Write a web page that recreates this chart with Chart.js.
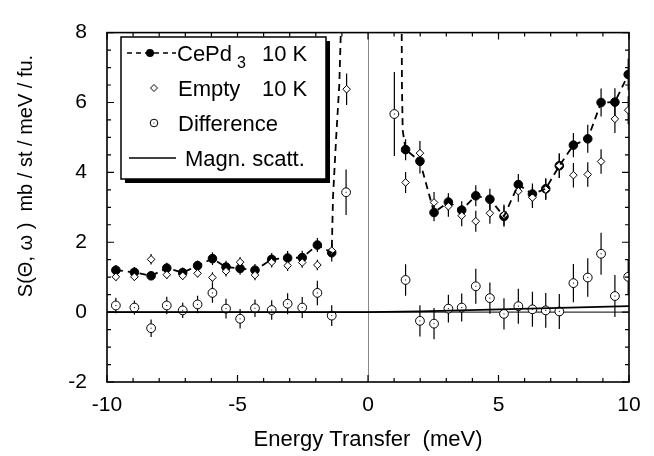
<!DOCTYPE html>
<html>
<head>
<meta charset="utf-8">
<script src="https://cdn.jsdelivr.net/npm/chart.js@4.4.0/dist/chart.umd.min.js"></script>
<style>
  body { margin: 0; background: #fff; }
</style>
</head>
<body>
<canvas id="chart" width="654" height="456"></canvas>
<script>
// energy transfer (meV) of the measured points, neg. side then pos. side
const energy = [-9.66, -8.95, -8.31, -7.71, -7.10, -6.53, -5.96, -5.44, -4.90, -4.33, -3.69, -3.08, -2.52, -1.94, -1.39,
  1.44, 1.99, 2.53, 3.08, 3.59, 4.13, 4.67, 5.21, 5.76, 6.30, 6.81, 7.33, 7.87, 8.42, 8.93, 9.46, 9.97];
const cepd3 = [1.20, 1.14, 1.04, 1.26, 1.13, 1.33, 1.53, 1.29, 1.25, 1.20, 1.51, 1.55, 1.56, 1.92, 1.70,
  4.65, 4.32, 2.85, 3.15, 2.92, 3.33, 3.23, 2.74, 3.65, 3.38, 3.53, 4.19, 4.78, 4.96, 6.00, 6.01, 6.80];
const cepd3Err = [0.15, 0.15, 0.12, 0.15, 0.15, 0.15, 0.18, 0.18, 0.18, 0.18, 0.18, 0.2, 0.2, 0.2, 0.25,
  0.3, 0.35, 0.25, 0.25, 0.25, 0.3, 0.3, 0.3, 0.3, 0.3, 0.3, 0.35, 0.35, 0.4, 0.4, 0.4, 0.45];
const empty = [1.01, 1.01, 1.51, 1.07, 1.04, 1.11, 0.99, 1.17, 1.43, 1.06, 1.43, 1.33, 1.42, 1.35, 1.76,
  3.71, 4.55, 3.14, 3.03, 2.76, 2.60, 2.83, 2.78, 3.46, 3.28, 3.51, 4.19, 3.92, 3.94, 4.31, 5.53, 5.78];
const emptyErr = [0.12, 0.12, 0.15, 0.12, 0.12, 0.12, 0.15, 0.15, 0.15, 0.15, 0.15, 0.15, 0.15, 0.15, 0.2,
  0.3, 0.35, 0.3, 0.3, 0.3, 0.3, 0.3, 0.3, 0.3, 0.3, 0.3, 0.35, 0.35, 0.35, 0.35, 0.4, 0.4];
const diff = [0.19, 0.13, -0.46, 0.19, 0.05, 0.22, 0.55, 0.10, -0.19, 0.11, 0.06, 0.24, 0.13, 0.55, -0.10,
  0.92, -0.25, -0.33, 0.10, 0.13, 0.74, 0.40, -0.05, 0.17, 0.08, 0.05, 0.02, 0.83, 0.99, 1.67, 0.46, 1.01];
const diffErr = [0.22, 0.2, 0.25, 0.25, 0.22, 0.25, 0.28, 0.28, 0.28, 0.25, 0.28, 0.3, 0.3, 0.35, 0.3,
  0.45, 0.45, 0.45, 0.4, 0.4, 0.5, 0.45, 0.45, 0.5, 0.5, 0.5, 0.5, 0.55, 0.55, 0.6, 0.6, 0.5];

// points close to the elastic line
const emptyElasticX = [-0.82];
const emptyElasticY = [6.38];
const emptyElasticErr = [0.45];
const diffElasticX = [-0.84, 1.01];
const diffElasticY = [3.43, 5.67];
const diffElasticErr = [0.65, 1.2];

// dashed guide towards the elastic peak
const guideLeftX = [-1.39, -1.34, -1.22, -1.10, -1.03];
const guideLeftY = [1.70, 3.3, 5.0, 6.5, 8.3];
const guideRightX = [1.29, 1.30, 1.33, 1.44];
const guideRightY = [8.3, 6.5, 5.2, 4.65];

// magnetic scattering
const magnX = [-10, 0, 2, 10];
const magnY = [0, 0, 0.02, 0.17];

const xTicks = [-10, -5, 0, 5, 10];
const yTicks = [-2, 0, 2, 4, 6, 8];

const FONT = '"Liberation Sans", Arial, Helvetica, sans-serif';

function pts(xs, ys) {
  return xs.map((x, i) => ({ x: x, y: ys[i] }));
}

const leftN = 15;
const cepdLine = pts(energy.slice(0, leftN), cepd3.slice(0, leftN)).concat(pts(guideLeftX, guideLeftY).slice(1));
const cepdLineR = pts(guideRightX, guideRightY).concat(pts(energy.slice(leftN + 1), cepd3.slice(leftN + 1)));

const errorBars = {
  id: 'errorBars',
  beforeDatasetsDraw(chart) {
    const { ctx, chartArea, scales: { x, y } } = chart;
    ctx.save();
    ctx.beginPath();
    ctx.rect(chartArea.left, chartArea.top, chartArea.right - chartArea.left, chartArea.bottom - chartArea.top);
    ctx.clip();
    ctx.strokeStyle = '#000';
    ctx.lineWidth = 1.2;
    chart.data.datasets.forEach(ds => {
      if (!ds.err) return;
      ds.data.forEach((p, i) => {
        const px = x.getPixelForValue(p.x);
        ctx.beginPath();
        ctx.moveTo(px, y.getPixelForValue(p.y - ds.err[i]));
        ctx.lineTo(px, y.getPixelForValue(p.y + ds.err[i]));
        ctx.stroke();
      });
    });
    ctx.restore();
  }
};

const frame = {
  id: 'frame',
  beforeDatasetsDraw(chart) {
    const { ctx, chartArea: a, scales: { x, y } } = chart;
    ctx.save();
    // thin line at zero energy
    ctx.strokeStyle = '#888';
    ctx.lineWidth = 1;
    const x0 = Math.round(x.getPixelForValue(0)) + 0.5;
    ctx.beginPath();
    ctx.moveTo(x0, a.top);
    ctx.lineTo(x0, a.bottom);
    ctx.stroke();
    // zero line
    ctx.strokeStyle = '#000';
    const y0 = y.getPixelForValue(0);
    ctx.beginPath();
    ctx.moveTo(a.left, y0);
    ctx.lineTo(a.right, y0);
    ctx.stroke();
    ctx.restore();
  },
  afterDraw(chart) {
    const { ctx, chartArea: a, scales: { x, y } } = chart;
    ctx.save();
    ctx.strokeStyle = '#000';
    ctx.lineWidth = 1.6;
    ctx.strokeRect(a.left, a.top, a.right - a.left, a.bottom - a.top);
    ctx.lineWidth = 1.2;
    for (let v = -10; v <= 10; v += 1) {
      const px = x.getPixelForValue(v);
      const len = v % 5 === 0 ? 7 : 4;
      ctx.beginPath();
      ctx.moveTo(px, a.bottom); ctx.lineTo(px, a.bottom - len);
      ctx.moveTo(px, a.top); ctx.lineTo(px, a.top + len);
      ctx.stroke();
    }
    for (let v = -2; v <= 8; v += 0.5) {
      const py = y.getPixelForValue(v);
      const len = v % 2 === 0 ? 7 : 4;
      ctx.beginPath();
      ctx.moveTo(a.left, py); ctx.lineTo(a.left + len, py);
      ctx.moveTo(a.right, py); ctx.lineTo(a.right - len, py);
      ctx.stroke();
    }
    // y axis title
    ctx.translate(26, 176);
    ctx.rotate(-Math.PI / 2);
    ctx.fillStyle = '#000';
    ctx.font = '20px ' + FONT;
    ctx.textAlign = 'center';
    ctx.textBaseline = 'middle';
    ctx.fillText('S(\u0398, \u03C9 )  mb / st / meV / fu.', 0, 0);
    ctx.restore();
  }
};

// centre dots of the open circles
const dots = {
  id: 'dots',
  afterDatasetsDraw(chart) {
    const { ctx, chartArea: a } = chart;
    ctx.save();
    ctx.beginPath();
    ctx.rect(a.left, a.top, a.right - a.left, a.bottom - a.top);
    ctx.clip();
    ctx.fillStyle = '#000';
    chart.data.datasets.forEach((ds, di) => {
      if (!ds.dot) return;
      chart.getDatasetMeta(di).data.forEach(el => {
        ctx.fillRect(el.x - 0.5, el.y - 0.5, 1, 1);
      });
    });
    ctx.restore();
  }
};

const legendBox = {
  id: 'legendBox',
  afterDraw(chart) {
    const { ctx } = chart;
    const L = 121, T = 37, R = 326, B = 179;
    ctx.save();
    ctx.fillStyle = '#000';
    ctx.fillRect(L + 4, T + 4, R - L, B - T);
    ctx.fillStyle = '#fff';
    ctx.fillRect(L, T, R - L, B - T);
    ctx.strokeStyle = '#000';
    ctx.lineWidth = 1.5;
    ctx.strokeRect(L, T, R - L, B - T);

    // row 1
    ctx.lineWidth = 1.5;
    ctx.setLineDash([5, 4]);
    ctx.beginPath();
    ctx.moveTo(127, 53); ctx.lineTo(176, 53);
    ctx.stroke();
    ctx.setLineDash([]);
    ctx.beginPath();
    ctx.arc(150, 53, 4, 0, Math.PI * 2);
    ctx.fillStyle = '#000';
    ctx.fill();

    // row 2 diamond
    ctx.lineWidth = 1;
    ctx.beginPath();
    ctx.moveTo(154, 84.5); ctx.lineTo(157.5, 88); ctx.lineTo(154, 91.5); ctx.lineTo(150.5, 88); ctx.closePath();
    ctx.stroke();

    // row 3 circle
    ctx.beginPath();
    ctx.arc(154, 123, 3.8, 0, Math.PI * 2);
    ctx.stroke();
    ctx.fillRect(153.5, 122.5, 1, 1);

    // row 4 solid line
    ctx.lineWidth = 1.6;
    ctx.beginPath();
    ctx.moveTo(129, 158); ctx.lineTo(176, 158);
    ctx.stroke();

    ctx.fillStyle = '#000';
    ctx.textBaseline = 'alphabetic';
    ctx.font = '22px ' + FONT;
    ctx.fillText('CePd', 177, 61);
    ctx.font = '16px ' + FONT;
    ctx.fillText('3', 237, 68);
    ctx.font = '22px ' + FONT;
    ctx.fillText('10 K', 262, 61);
    ctx.fillText('Empty', 178, 96);
    ctx.fillText('10 K', 262, 96);
    ctx.fillText('Difference', 178, 131);
    ctx.fillText('Magn. scatt.', 185, 166);
    ctx.restore();
  }
};

new Chart(document.getElementById('chart'), {
  type: 'scatter',
  data: {
    datasets: [
      {
        label: 'guide left', type: 'line', data: cepdLine, showLine: true, pointRadius: 0,
        borderColor: '#000', borderWidth: 1.8, borderDash: [7, 5], tension: 0, clip: 0
      },
      {
        label: 'guide right', type: 'line', data: cepdLineR, showLine: true, pointRadius: 0,
        borderColor: '#000', borderWidth: 1.8, borderDash: [7, 5], tension: 0, clip: 0
      },
      {
        label: 'Magn. scatt.', type: 'line', data: pts(magnX, magnY), showLine: true, pointRadius: 0,
        borderColor: '#000', borderWidth: 1.8, tension: 0
      },
      {
        label: 'Difference', data: pts(energy, diff).concat(pts(diffElasticX, diffElasticY)),
        err: diffErr.concat(diffElasticErr), dot: true,
        pointStyle: 'circle', pointRadius: 4.4, borderWidth: 1, borderColor: '#000', backgroundColor: '#fff'
      },
      {
        label: 'Empty 10 K', data: pts(energy, empty).concat(pts(emptyElasticX, emptyElasticY)),
        err: emptyErr.concat(emptyElasticErr),
        pointStyle: 'rectRot', pointRadius: 3.8, borderWidth: 1, borderColor: '#000', backgroundColor: '#fff'
      },
      {
        label: 'CePd3 10 K', data: pts(energy, cepd3), err: cepd3Err,
        pointStyle: 'circle', pointRadius: 4.3, borderWidth: 1, borderColor: '#000', backgroundColor: '#000'
      }
    ]
  },
  options: {
    responsive: false,
    animation: false,
    layout: { padding: { top: 15, right: 25, left: 0, bottom: 0 } },
    plugins: { legend: { display: false }, tooltip: { enabled: false } },
    scales: {
      x: {
        type: 'linear', min: -10, max: 10,
        afterBuildTicks: s => { s.ticks = xTicks.map(v => ({ value: v })); },
        ticks: { color: '#000', padding: 11, maxRotation: 0, font: { family: FONT, size: 21 } },
        grid: { display: false, drawTicks: false },
        border: { display: false },
        title: {
          display: true, text: 'Energy Transfer  (meV)', color: '#000',
          font: { family: FONT, size: 22 }, padding: { top: 0, bottom: 3 }
        },
        afterFit: s => { s.height = 74; }
      },
      y: {
        type: 'linear', min: -2, max: 8,
        afterBuildTicks: s => { s.ticks = yTicks.map(v => ({ value: v })); },
        ticks: { color: '#000', padding: 20, font: { family: FONT, size: 21 } },
        grid: { display: false, drawTicks: false },
        border: { display: false },
        afterFit: s => { s.width = 107; }
      }
    }
  },
  plugins: [frame, errorBars, dots, legendBox]
});
</script>
</body>
</html>
